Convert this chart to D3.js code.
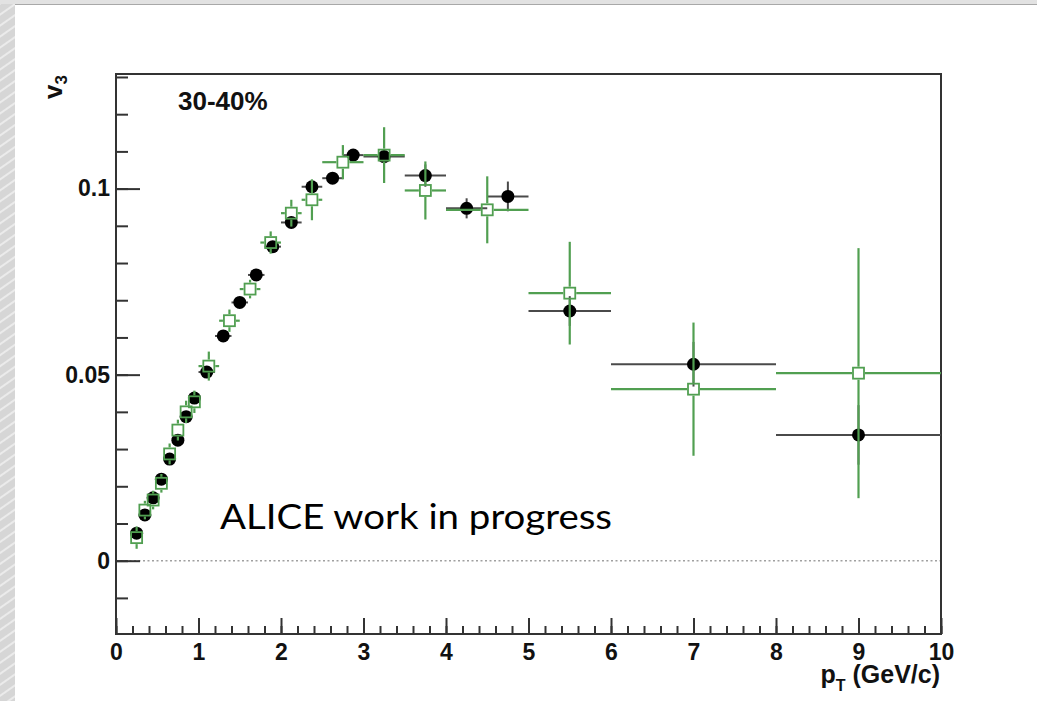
<!DOCTYPE html>
<html>
<head>
<meta charset="UTF-8">
<title>v3 vs pT</title>
<script src="https://cdn.jsdelivr.net/npm/d3@7"></script>
<style type="text/css">
	body{ margin:0; background:#dcdcdc; }
	svg{ display:block; }
	.lbl{ font-family: "Liberation Sans", Arial, Helvetica, sans-serif; font-weight:bold; fill:#111; }
</style>
</head>
<body>
<script>
// black points (filled circles)
var blackPt  = [0.25,0.35,0.45,0.55,0.65,0.75,0.85,0.95,1.1,1.3,1.5,1.7,1.9,2.125,2.375,2.625,2.875,3.25,3.75,4.25,4.75,5.5,7,9];
var blackHw  = [0.05,0.05,0.05,0.05,0.05,0.05,0.05,0.05,0.1,0.1,0.1,0.1,0.1,0.125,0.125,0.125,0.125,0.25,0.25,0.25,0.25,0.5,1,1];
var blackV3  = [0.0074,0.0123,0.0169,0.0219,0.0273,0.0324,0.0387,0.0437,0.0507,0.0604,0.0694,0.0768,0.0844,0.0909,0.1005,0.1028,0.1090,0.1086,0.1035,0.0947,0.0979,0.0671,0.0528,0.0338];
var blackErr = [0.001,0.001,0.001,0.001,0.001,0.001,0.001,0.001,0.0012,0.0012,0.0012,0.0012,0.0012,0.0015,0.0015,0.0015,0.0015,0.002,0.003,0.0027,0.004,0.004,0.006,0.008];

// green points (open squares)
var greenPt  = [0.25,0.35,0.45,0.55,0.65,0.75,0.85,0.95,1.125,1.375,1.625,1.875,2.125,2.375,2.75,3.25,3.75,4.5,5.5,7,9];
var greenHw  = [0.05,0.05,0.05,0.05,0.05,0.05,0.05,0.05,0.125,0.125,0.125,0.125,0.125,0.125,0.25,0.25,0.25,0.5,0.5,1,1];
var greenV3  = [0.0062,0.0136,0.0163,0.0208,0.0287,0.0351,0.0400,0.0427,0.0523,0.0645,0.0730,0.0855,0.0934,0.0970,0.1071,0.1090,0.0995,0.0943,0.0719,0.0461,0.0504];
var greenErr = [0.003,0.0025,0.0025,0.0025,0.0028,0.0028,0.003,0.003,0.0039,0.003,0.0025,0.003,0.0036,0.0055,0.0046,0.0075,0.0078,0.009,0.0138,0.0179,0.0336];

var xMajor = [0,1,2,3,4,5,6,7,8,9,10];
var yMajor = [0,0.05,0.1];

var width = 1037, height = 701;
var svg = d3.select("body").append("svg")
	.attr("width", width)
	.attr("height", height);

// streaky grey backdrop, white canvas on top
var pat = svg.append("defs").append("pattern")
	.attr("id", "streak").attr("width", 9).attr("height", 9)
	.attr("patternUnits", "userSpaceOnUse")
	.attr("patternTransform", "rotate(-35)");
pat.append("rect").attr("width", 9).attr("height", 9).attr("fill", "#d6d6d6");
pat.append("line").attr("x1", 0).attr("y1", 3).attr("x2", 9).attr("y2", 3)
	.attr("stroke", "#f2f2f2").attr("stroke-width", 1.5);
svg.append("rect").attr("width", width).attr("height", height).attr("fill", "url(#streak)");
svg.append("rect").attr("x", 0).attr("y", 0).attr("width", width).attr("height", 4).attr("fill", "#e2e2e2");
svg.append("line").attr("x1", 15).attr("x2", width).attr("y1", 4.5).attr("y2", 4.5)
	.attr("stroke", "#a8a8a8").attr("stroke-width", 1);
svg.append("rect").attr("x", 15).attr("y", 5).attr("width", width - 15).attr("height", height - 5).attr("fill", "#fff");

var pLeft = 116, pRight = 941, pTop = 74, pBottom = 634;
var x = d3.scaleLinear().domain([0, 10]).range([pLeft, pRight]);
var y = d3.scaleLinear().domain([-0.0197, 0.1308]).range([pBottom, pTop]);

// zero line
svg.append("line")
	.attr("x1", pLeft).attr("x2", pRight)
	.attr("y1", y(0)).attr("y2", y(0))
	.attr("stroke", "#a0a0a0").attr("stroke-width", 1.5)
	.attr("stroke-dasharray", "2,2.5");

// axes, ticks pointing inward like ROOT
var xMinor = svg.append("g").attr("transform", "translate(0," + pBottom + ")")
	.call(d3.axisBottom(x).tickValues(d3.range(0, 10.001, 0.2)).tickSize(-8).tickFormat(""));
var xAx = svg.append("g").attr("transform", "translate(0," + pBottom + ")")
	.call(d3.axisBottom(x).tickValues(xMajor).tickSize(-16).tickPadding(10).tickFormat(d3.format("d")));
var yMinor = svg.append("g").attr("transform", "translate(" + pLeft + ",0)")
	.call(d3.axisLeft(y).tickValues(d3.range(-0.01, 0.1301, 0.01)).tickSize(-12).tickFormat(""));
var yAx = svg.append("g").attr("transform", "translate(" + pLeft + ",0)")
	.call(d3.axisLeft(y).tickValues(yMajor).tickSize(-24).tickPadding(6).tickFormat(function(d){ return d == 0 ? "0" : String(d); }));

[xMinor, xAx, yMinor, yAx].forEach(function(g){
	g.select(".domain").remove();
	g.selectAll(".tick line").attr("stroke", "#333").attr("stroke-width", 2);
});
xAx.selectAll("text").attr("class", "lbl").attr("font-size", "23px");
yAx.selectAll("text").attr("class", "lbl").attr("font-size", "23px");

// frame
svg.append("rect")
	.attr("x", pLeft).attr("y", pTop)
	.attr("width", pRight - pLeft).attr("height", pBottom - pTop)
	.attr("fill", "none").attr("stroke", "#333").attr("stroke-width", 2);

// black series: grey bars then dots
var bl = blackPt.map(function(p, i){ return {p: p, hw: blackHw[i], v: blackV3[i], e: blackErr[i]}; });
var gBlack = svg.append("g");
gBlack.selectAll("line.h").data(bl).enter().append("line")
	.attr("x1", function(d){ return x(d.p - d.hw); })
	.attr("x2", function(d){ return x(d.p + d.hw); })
	.attr("y1", function(d){ return y(d.v); })
	.attr("y2", function(d){ return y(d.v); })
	.attr("stroke", "#4a4a4a").attr("stroke-width", 2);
gBlack.selectAll("line.v").data(bl).enter().append("line")
	.attr("x1", function(d){ return x(d.p); })
	.attr("x2", function(d){ return x(d.p); })
	.attr("y1", function(d){ return y(d.v - d.e); })
	.attr("y2", function(d){ return y(d.v + d.e); })
	.attr("stroke", "#4a4a4a").attr("stroke-width", 2);
gBlack.selectAll("circle").data(bl).enter().append("circle")
	.attr("cx", function(d){ return x(d.p); })
	.attr("cy", function(d){ return y(d.v); })
	.attr("r", 6.5).attr("fill", "#000");

// green series: bars with a gap round the open square
var green = "#519f51", hs = 6.5;
var gr = greenPt.map(function(p, i){ return {p: p, hw: greenHw[i], v: greenV3[i], e: greenErr[i]}; });
var gGreen = svg.append("g").attr("stroke", green).attr("stroke-width", 2.2).attr("fill", "none");
gr.forEach(function(d){
	var cx = x(d.p), cy = y(d.v);
	var segs = [
		[x(d.p - d.hw), cy, cx - hs, cy],
		[cx + hs, cy, x(d.p + d.hw), cy],
		[cx, y(d.v + d.e), cx, cy - hs],
		[cx, cy + hs, cx, y(d.v - d.e)]
	];
	segs.forEach(function(s){
		var len = Math.abs(s[2] - s[0]) + Math.abs(s[3] - s[1]);
		if ((s[0] <= s[2] && s[1] <= s[3]) && len > 0.5) {
			gGreen.append("line").attr("x1", s[0]).attr("y1", s[1]).attr("x2", s[2]).attr("y2", s[3]);
		}
	});
	gGreen.append("rect")
		.attr("x", cx - hs + 1).attr("y", cy - hs + 1)
		.attr("width", 2 * hs - 2).attr("height", 2 * hs - 2)
		.attr("stroke-width", 1.8);
});

// texts
svg.append("text").attr("class", "lbl")
	.attr("x", 178).attr("y", 110).attr("font-size", "26px")
	.text("30-40%");

svg.append("text")
	.attr("x", 220).attr("y", 529)
	.attr("font-family", "Lato, 'Open Sans', sans-serif")
	.attr("font-size", "35px").attr("fill", "#000")
	.attr("textLength", 392).attr("lengthAdjust", "spacingAndGlyphs")
	.text("ALICE work in progress");

// x title
var xt = svg.append("text").attr("class", "lbl")
	.attr("x", 940).attr("y", 683).attr("text-anchor", "end").attr("font-size", "25px");
xt.append("tspan").text("p");
xt.append("tspan").attr("font-size", "16px").attr("dy", 8).text("T");
xt.append("tspan").attr("dy", -8).text(" (GeV/c)");

// y title
var yt = svg.append("text").attr("class", "lbl")
	.attr("transform", "translate(62,75) rotate(-90)")
	.attr("text-anchor", "end").attr("font-size", "26px");
yt.append("tspan").text("v");
yt.append("tspan").attr("font-size", "17px").attr("dy", 5).text("3");
</script>
</body>
</html>
